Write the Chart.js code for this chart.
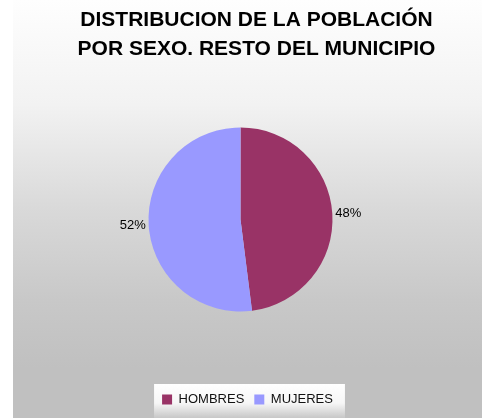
<!DOCTYPE html>
<html>
<head>
<meta charset="utf-8">
<script src="https://cdn.jsdelivr.net/npm/chart.js@4"></script>
<style>
  html, body { margin: 0; padding: 0; background: #fff; }
  #wrap {
    position: absolute; left: 13px; top: 0; width: 469px; height: 418px;
    background: linear-gradient(#fefefe 0%, #f2f2f2 25%, #d9d9d9 50%, #c8c8c8 72%, #c0c0c0 88%, #c0c0c0 100%);
  }
</style>
</head>
<body>
<div id="wrap"><canvas id="chart" width="469" height="418"></canvas></div>
<script>
// ---------- Data ----------
const categories = ['HOMBRES', 'MUJERES'];
const percentages = [48, 52];
const sliceColors = ['#993366', '#9999FF'];
const titleLines = ['DISTRIBUCION DE LA POBLACIÓN', 'POR SEXO. RESTO DEL MUNICIPIO'];

const FONT = "'Liberation Sans', Arial, sans-serif";

// ---------- Plugins ----------
// nudge the pie left and the title right, like the original sheet
const layoutTweak = {
  id: 'layoutTweak',
  afterLayout(chart) {
    const a = chart.chartArea;
    a.left -= 7; a.right -= 7;
    a.top -= 4; a.bottom -= 4;
    if (chart.titleBlock) {
      chart.titleBlock.left += 9;
      chart.titleBlock.right += 9;
    }
  }
};

// white-to-grey box behind the legend
const legendBox = {
  id: 'legendBox',
  beforeDraw(chart) {
    const boxes = chart.legend && chart.legend.legendHitBoxes;
    if (!boxes || !boxes.length) return;
    const first = boxes[0], last = boxes[boxes.length - 1];
    const x0 = first.left - 8;
    const x1 = last.left + last.width + 12;
    const y0 = first.top - 9;
    const y1 = first.top + first.height + 13;
    const ctx = chart.ctx;
    const g = ctx.createLinearGradient(0, y0, 0, y1);
    g.addColorStop(0, '#ffffff');
    g.addColorStop(0.55, '#f6f6f6');
    g.addColorStop(1, '#c4c4c4');
    ctx.save();
    ctx.fillStyle = g;
    ctx.fillRect(x0, y0, x1 - x0, y1 - y0);
    ctx.restore();
  }
};

// percentage labels just outside each slice
const outsideLabels = {
  id: 'outsideLabels',
  afterDatasetsDraw(chart) {
    const ctx = chart.ctx;
    const meta = chart.getDatasetMeta(0);
    ctx.save();
    ctx.font = '13px ' + FONT;
    ctx.fillStyle = '#000';
    ctx.textBaseline = 'middle';
    meta.data.forEach((arc, i) => {
      const p = arc.getProps(['x', 'y', 'startAngle', 'endAngle', 'outerRadius'], true);
      const mid = (p.startAngle + p.endAngle) / 2;
      const r = p.outerRadius + 3;
      const cx = Math.cos(mid), cy = Math.sin(mid);
      ctx.textAlign = cx >= 0 ? 'left' : 'right';
      ctx.fillText(percentages[i] + '%', p.x + cx * r, p.y + cy * r);
    });
    ctx.restore();
  }
};

// ---------- Chart ----------
new Chart(document.getElementById('chart'), {
  type: 'pie',
  data: {
    labels: categories,
    datasets: [{
      data: percentages,
      backgroundColor: sliceColors,
      borderWidth: 0
    }]
  },
  options: {
    responsive: false,
    animation: false,
    radius: 92,
    layout: { padding: { top: 0, bottom: 2, left: 0, right: 0 } },
    plugins: {
      title: {
        display: true,
        text: titleLines,
        color: '#000',
        font: { family: FONT, size: 21, weight: 'bold', lineHeight: 1.38 },
        padding: { top: 6, bottom: 0 }
      },
      legend: {
        position: 'bottom',
        labels: {
          boxWidth: 10,
          boxHeight: 10,
          padding: 10,
          color: '#111',
          font: { family: FONT, size: 13 }
        }
      },
      tooltip: { enabled: false }
    }
  },
  plugins: [layoutTweak, legendBox, outsideLabels]
});
</script>
</body>
</html>
